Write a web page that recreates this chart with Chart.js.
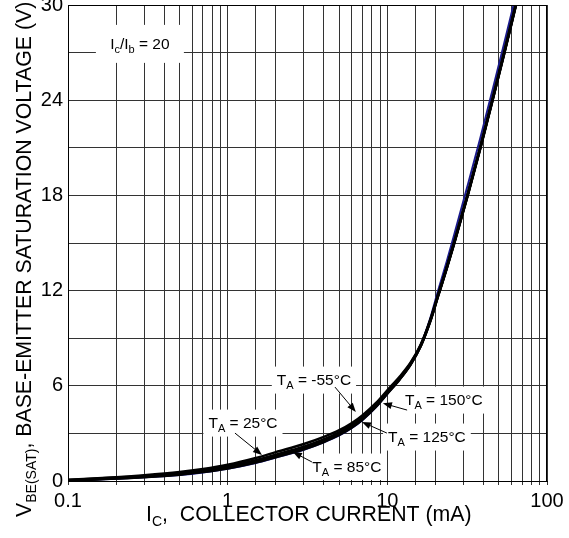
<!DOCTYPE html>
<html>
<head>
<meta charset="utf-8">
<script src="https://cdn.jsdelivr.net/npm/chart.js@4.4.1/dist/chart.umd.min.js"></script>
<style>
  body { margin: 0; background: #fff; }
</style>
</head>
<body>
<canvas id="vbeChart" width="569" height="538"></canvas>
<script>
// Collector current (mA), shared by every curve
let currents = [0.1, 0.2, 0.3, 0.5, 0.7, 1, 1.5, 2, 3, 4, 5, 6, 7, 8.5, 10, 12, 14, 16.2, 18.5, 20.8, 23.5, 26.2, 31.8, 38.2, 45.5, 54, 63.8];

// V_BE(SAT), one list per ambient temperature
let vMinus55 = [0.08, 0.24, 0.36, 0.56, 0.75, 1.02, 1.45, 1.82, 2.33, 2.78, 3.2, 3.65, 4.15, 4.92, 5.72, 6.6, 7.47, 8.6, 10.08, 11.7, 13.4, 15, 18, 21, 24, 27, 30];
let v25 = [0.05, 0.2, 0.3, 0.48, 0.65, 0.9, 1.3, 1.65, 2.15, 2.6, 3.05, 3.5, 4.0, 4.8, 5.6, 6.5, 7.4, 8.55, 10.05, 11.7, 13.4, 15, 18, 21, 24, 27, 30];
let v85 = [0.03, 0.17, 0.27, 0.43, 0.6, 0.84, 1.22, 1.56, 2.06, 2.52, 2.96, 3.42, 3.92, 4.73, 5.54, 6.45, 7.36, 8.52, 10.03, 11.68, 13.38, 14.98, 17.98, 20.98, 23.98, 26.98, 29.98];
let v125 = [0.02, 0.15, 0.24, 0.4, 0.56, 0.79, 1.16, 1.5, 2.0, 2.46, 2.9, 3.37, 3.87, 4.68, 5.5, 6.42, 7.34, 8.51, 10.04, 11.7, 13.4, 15, 18, 21, 24, 27, 30];
let v150 = [0.02, 0.14, 0.23, 0.38, 0.54, 0.77, 1.14, 1.48, 1.97, 2.43, 2.87, 3.34, 3.85, 4.66, 5.5, 6.44, 7.38, 8.58, 10.2, 12.0, 13.8, 15.5, 18.6, 21.6, 24.6, 27.6, 30.6];

// Tick labels
let xTickValues = [0.1, 1, 10, 100];
let xTickLabels = ["0.1", "1", "10", "100"];
let yTickLabels = [0, 6, 12, 18, 24, 30];

// Callouts: text parts, label centre and arrow (data coords)
let notes = [
  { parts: [["I"], ["c", 1], ["/I"], ["b", 1], [" = 20"]], at: [0.282, 27.55], box: [88, 38] },
  { parts: [["T"], ["A", 1], [" = 25°C"]], at: [1.247, 3.65], from: [1.111, 3.02], to: [1.64, 1.64] },
  { parts: [["T"], ["A", 1], [" = -55°C"]], at: [3.47, 6.36], from: [4.70, 5.92], to: [6.35, 4.35] },
  { parts: [["T"], ["A", 1], [" = 150°C"]], at: [22.6, 5.1], from: [13.3, 4.47], to: [9.38, 4.9] },
  { parts: [["T"], ["A", 1], [" = 125°C"]], at: [17.7, 2.77], from: [9.94, 3.02], to: [6.93, 3.72] },
  { parts: [["T"], ["A", 1], [" = 85°C"]], at: [5.58, 0.88], from: [3.37, 1.2], to: [2.56, 1.83] },
];

const FONT = "'Liberation Sans', Arial, sans-serif";

function pairUp(ys) {
  return currents.map((c, i) => ({ x: c, y: ys[i] }));
}

// draw text with subscripts; parts = [[text, isSub], ...]
function drawRich(ctx, parts, x, y, size, subSize, subShift, align) {
  let widths = parts.map((p) => {
    ctx.font = (p[1] ? subSize : size) + "px " + FONT;
    return ctx.measureText(p[0]).width;
  });
  let total = widths.reduce((a, b) => a + b, 0);
  let cx = align === "center" ? x - total / 2 : x;
  ctx.textAlign = "left";
  ctx.textBaseline = "alphabetic";
  parts.forEach((p, i) => {
    ctx.font = (p[1] ? subSize : size) + "px " + FONT;
    ctx.fillText(p[0], cx, p[1] ? y + subShift : y);
    cx += widths[i];
  });
  return total;
}

function arrow(ctx, x1, y1, x2, y2) {
  let a = Math.atan2(y2 - y1, x2 - x1);
  ctx.beginPath();
  ctx.moveTo(x1, y1);
  ctx.lineTo(x2 - 6 * Math.cos(a), y2 - 6 * Math.sin(a));
  ctx.lineWidth = 1;
  ctx.strokeStyle = "#000";
  ctx.stroke();
  ctx.beginPath();
  ctx.moveTo(x2, y2);
  ctx.lineTo(x2 - 9 * Math.cos(a) + 3.5 * Math.sin(a), y2 - 9 * Math.sin(a) - 3.5 * Math.cos(a));
  ctx.lineTo(x2 - 9 * Math.cos(a) - 3.5 * Math.sin(a), y2 - 9 * Math.sin(a) + 3.5 * Math.cos(a));
  ctx.closePath();
  ctx.fillStyle = "#000";
  ctx.fill();
}

let decorPlugin = {
  id: "decor",
  beforeDatasetsDraw(chart) {
    let ctx = chart.ctx;
    let xs = chart.scales.x, ys = chart.scales.y;
    ctx.save();
    notes.forEach((n) => {
      let w = 0;
      n.parts.forEach((p) => {
        ctx.font = (p[1] ? 11 : 15.5) + "px " + FONT;
        w += ctx.measureText(p[0]).width;
      });
      let bw = n.box ? n.box[0] : w + 10;
      let bh = n.box ? n.box[1] : 27;
      let cx = xs.getPixelForValue(n.at[0]);
      let cy = ys.getPixelForValue(n.at[1]);
      let top = Math.max(cy - bh / 2, chart.chartArea.top + 1);
      let bottom = Math.min(cy + bh / 2, chart.chartArea.bottom - 1);
      ctx.fillStyle = "#fff";
      ctx.fillRect(cx - bw / 2, top, bw, bottom - top);
    });
    ctx.restore();
  },
  afterDatasetsDraw(chart) {
    let ctx = chart.ctx;
    let xs = chart.scales.x, ys = chart.scales.y;
    let area = chart.chartArea;
    ctx.save();
    // frame
    ctx.strokeStyle = "#000";
    ctx.lineWidth = 1;
    ctx.strokeRect(area.left + 0.5, area.top + 0.5, area.right - area.left - 1, area.bottom - area.top);
    // callouts
    notes.forEach((n) => {
      let cx = xs.getPixelForValue(n.at[0]);
      let cy = ys.getPixelForValue(n.at[1]);
      ctx.fillStyle = "#000";
      drawRich(ctx, n.parts, cx, cy + 5, 15.5, 11, 4, "center");
      if (n.from) {
        arrow(ctx, xs.getPixelForValue(n.from[0]), ys.getPixelForValue(n.from[1]),
          xs.getPixelForValue(n.to[0]), ys.getPixelForValue(n.to[1]));
      }
    });
    ctx.restore();
  },
  afterDraw(chart) {
    let ctx = chart.ctx;
    ctx.save();
    ctx.fillStyle = "#000";
    // x axis title
    drawRich(ctx, [["I"], ["C", 1], [",  COLLECTOR CURRENT (mA)"]], 146, 521, 21.3, 14, 5, "left");
    // y axis title (rotated)
    ctx.translate(31, 517);
    ctx.rotate(-Math.PI / 2);
    drawRich(ctx, [["V"], ["BE(SAT)", 1], [", BASE-EMITTER SATURATION VOLTAGE (V)"]], 0, 0, 21.3, 14, 5, "left");
    ctx.restore();
  },
};

let ctx = document.getElementById("vbeChart").getContext("2d");
let vbeChart = new Chart(ctx, {
  type: "line",
  data: {
    datasets: [
      { label: "-55°C", data: pairUp(vMinus55), borderColor: "#000", borderWidth: 2.5 },
      { label: "25°C", data: pairUp(v25), borderColor: "#000", borderWidth: 3 },
      { label: "85°C", data: pairUp(v85), borderColor: "#000", borderWidth: 2.5 },
      { label: "125°C", data: pairUp(v125), borderColor: "#000", borderWidth: 2.5 },
      { label: "150°C", data: pairUp(v150), borderColor: "#1a1a8c", borderWidth: 2 },
    ],
  },
  options: {
    responsive: false,
    animation: false,
    layout: { padding: { top: 5, right: 22, left: 0, bottom: 0 } },
    elements: {
      point: { radius: 0 },
      line: { cubicInterpolationMode: "monotone" },
    },
    plugins: {
      legend: { display: false },
      tooltip: { enabled: false },
    },
    scales: {
      x: {
        type: "logarithmic",
        min: 0.1,
        max: 100,
        afterFit: (s) => { s.height = 57; s.paddingLeft = 0; s.paddingRight = 0; },
        border: { color: "#000" },
        grid: { color: "#333", tickLength: 4, tickColor: "#333" },
        ticks: {
          autoSkip: false,
          maxRotation: 0,
          padding: 4,
          color: "#000",
          font: { family: FONT, size: 20 },
          callback: (v) => {
            let i = xTickValues.findIndex((t) => Math.abs(t - v) < 1e-9);
            return i >= 0 ? xTickLabels[i] : "";
          },
        },
      },
      y: {
        min: 0,
        max: 30,
        afterFit: (s) => { s.width = 68; s.paddingTop = 0; s.paddingBottom = 0; },
        border: { color: "#000" },
        grid: { color: "#333", drawTicks: false },
        ticks: {
          stepSize: 3,
          padding: 5,
          color: "#000",
          font: { family: FONT, size: 20 },
          callback: (v) => (yTickLabels.includes(v) ? v : ""),
        },
      },
    },
  },
  plugins: [decorPlugin],
});
</script>
</body>
</html>
